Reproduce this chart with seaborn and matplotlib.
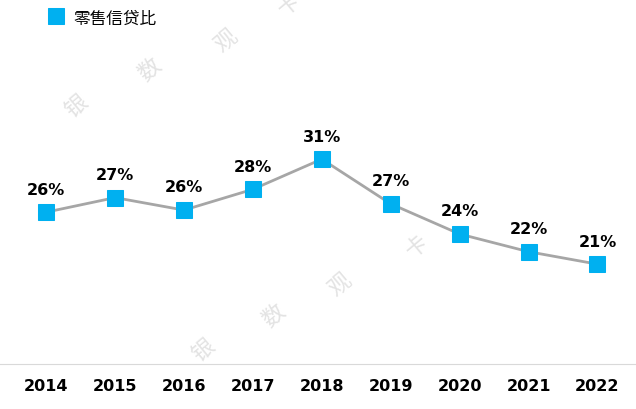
import matplotlib
matplotlib.use("Agg")
import matplotlib.pyplot as plt
from matplotlib import font_manager
import seaborn as sns
import pandas as pd

years = ["2014", "2015", "2016", "2017", "2018", "2019", "2020", "2021", "2022"]
ratio = [25.8, 27.2, 26.0, 28.0, 30.9, 26.6, 23.7, 22.0, 20.8]
labels = ["26%", "27%", "26%", "28%", "31%", "27%", "24%", "22%", "21%"]

cjk = [f.name for f in font_manager.fontManager.ttflist if "CJK" in f.name]
cjk_name = "Noto Sans CJK SC" if "Noto Sans CJK SC" in cjk else (cjk[0] if cjk else "DejaVu Sans")
plt.rcParams["font.family"] = [cjk_name, "DejaVu Sans"]

df = pd.DataFrame({"x": range(len(years)), "y": ratio})

fig = plt.figure(figsize=(6.36, 4.10), dpi=100)
ax = fig.add_axes([0, 45 / 410, 1, 365 / 410])
sns.lineplot(data=df, x="x", y="y", ax=ax, color="#A6A6A6", linewidth=2,
             marker="s", markersize=11, markerfacecolor="#00B0F0",
             markeredgecolor="#00B0F0", label="零售信贷比")
for i, (v, t) in enumerate(zip(ratio, labels)):
    ax.text(i, v + 1.5, t, ha="center", va="bottom", fontsize=11.5,
            fontweight="bold", family="DejaVu Sans")

# watermarks
for (x, y, ch) in [(0.12, 0.74, "银"), (0.235, 0.83, "数"), (0.355, 0.90, "观"), (0.455, 0.99, "卡"),
                   (0.32, 0.145, "银"), (0.43, 0.23, "数"), (0.535, 0.305, "观"), (0.655, 0.40, "卡")]:
    fig.text(x, y, ch, fontsize=16, color="#E3E3E3", rotation=40, ha="center", va="center",
             family=cjk_name)

ax.set_xlim(-0.67, 8.56)
ax.set_ylim(11.2, 46.3)
ax.set_xticks(range(len(years)))
ax.set_xticklabels(years, fontsize=11.5, fontweight="bold", family="DejaVu Sans")
ax.set_yticks([])
ax.set_xlabel("")
ax.set_ylabel("")
ax.tick_params(axis="x", length=0, pad=10)
for s in ["top", "left", "right"]:
    ax.spines[s].set_visible(False)
ax.spines["bottom"].set_color("#D9D9D9")
ax.legend(loc="upper left", bbox_to_anchor=(0.065, 0.99), frameon=False, fontsize=12,
          handlelength=1.0, handletextpad=0.5, borderaxespad=0)
for h in ax.get_legend().legend_handles:
    h.set_linestyle("none")
fig.savefig("out.png", dpi=100)
